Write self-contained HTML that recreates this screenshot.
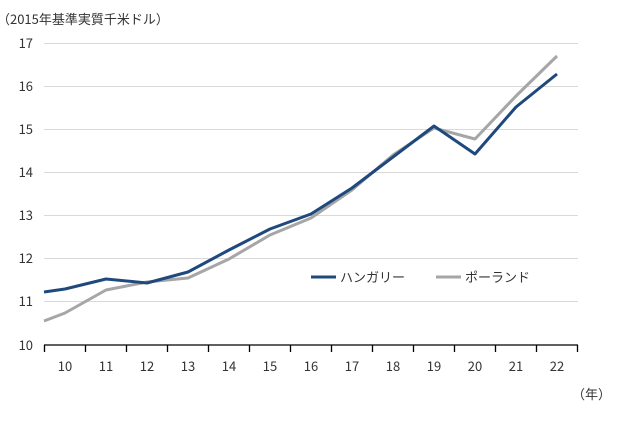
<!DOCTYPE html>
<html><head><meta charset="utf-8"><style>
body{margin:0;background:#fff;}
svg text{font-family:"Noto Sans CJK JP","Liberation Sans",sans-serif;fill:#333;}
</style></head><body>
<svg width="624" height="422" viewBox="0 0 624 422" xmlns="http://www.w3.org/2000/svg">
<text x="-3" y="24" font-size="13">（2015年基準実質千米ドル）</text>
<g stroke="#d9d9d9" stroke-width="1">
<line x1="44" x2="578" y1="43.5" y2="43.5"/>
<line x1="44" x2="578" y1="86.5" y2="86.5"/>
<line x1="44" x2="578" y1="129.5" y2="129.5"/>
<line x1="44" x2="578" y1="172.5" y2="172.5"/>
<line x1="44" x2="578" y1="215.5" y2="215.5"/>
<line x1="44" x2="578" y1="258.5" y2="258.5"/>
<line x1="44" x2="578" y1="301.5" y2="301.5"/>
</g>
<g stroke="#000" stroke-width="1.3">
<line x1="44" x2="578" y1="345" y2="345"/>
<path d="M44.5 345v7M85.5 345v7M126.5 345v7M167.5 345v7M208.5 345v7M249.5 345v7M290.5 345v7M331.5 345v7M372.5 345v7M413.5 345v7M454.5 345v7M495.5 345v7M536.5 345v7M577.5 345v7"/>
</g>
<g font-size="13" text-anchor="end">
<text x="33" y="48">17</text><text x="33" y="91">16</text><text x="33" y="134">15</text><text x="33" y="177">14</text><text x="33" y="220">13</text><text x="33" y="263">12</text><text x="33" y="306">11</text><text x="33" y="350">10</text>
</g>
<g font-size="13" text-anchor="middle">
<text x="65" y="371">10</text><text x="106" y="371">11</text><text x="147" y="371">12</text><text x="188" y="371">13</text><text x="229" y="371">14</text><text x="270" y="371">15</text><text x="311" y="371">16</text><text x="352" y="371">17</text><text x="393" y="371">18</text><text x="434" y="371">19</text><text x="475" y="371">20</text><text x="516" y="371">21</text><text x="557" y="371">22</text>
</g>
<text x="572" y="399" font-size="13">（年）</text>
<polyline fill="none" stroke="#a6a6a6" stroke-width="3" stroke-linejoin="round" points="44,321 65,313 106,290 147,282 188,278 229,259 270,235 311,218 352,190 393,155 434,128 475,139 516,96 557,56"/>
<polyline fill="none" stroke="#1f497d" stroke-width="3" stroke-linejoin="round" points="44,292 65,289 106,279 147,283 188,272 229,250 270,229 311,214 352,188 393,157 434,126 475,154 516,107 557,74"/>
<line x1="311" x2="336" y1="277" y2="277" stroke="#1f497d" stroke-width="3"/>
<text x="340" y="282" font-size="13">ハンガリー</text>
<line x1="436" x2="461" y1="277" y2="277" stroke="#a6a6a6" stroke-width="3"/>
<text x="465" y="282" font-size="13">ポーランド</text>
</svg>
</body></html>
